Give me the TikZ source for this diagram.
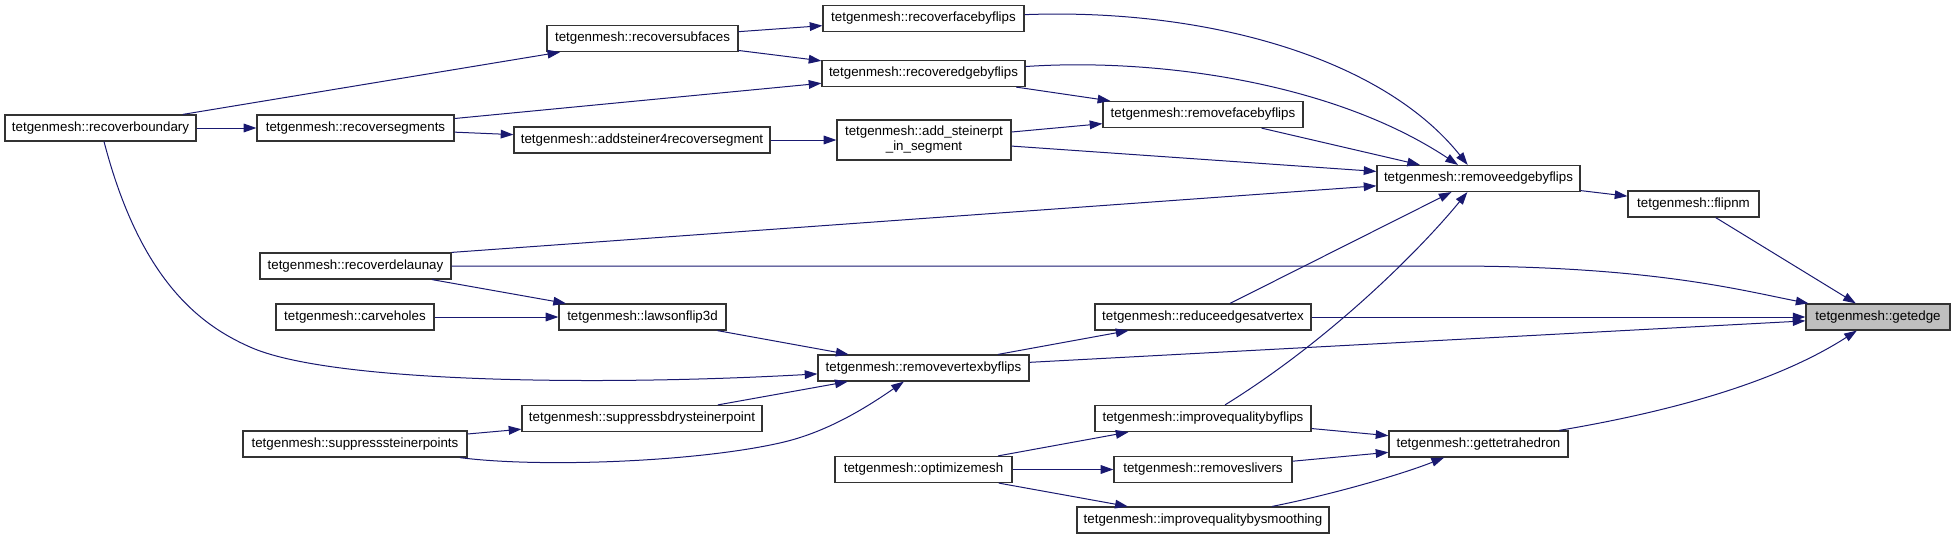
\documentclass[tikz,border=0pt]{standalone}
\usepackage{fontspec}
\setmainfont{Liberation Sans}
\usetikzlibrary{arrows.meta}
\definecolor{edgeblue}{HTML}{191970}
\definecolor{focusgrey}{HTML}{BFBFBF}
\begin{document}
\begin{tikzpicture}[x=0.75pt, y=-0.75pt,
	fn/.style={ draw=black!80, line width=0.9pt, fill=white, inner sep=0pt, minimum height=19.5pt, font=\fontsize{10}{11.25}\selectfont, align=center },
	fnf/.style={ fn, fill=focusgrey },
	call/.style={ edgeblue, line width=0.75pt, -{Triangle[length=9.5pt,width=6.5pt]} }
]
\useasboundingbox (0,0) rectangle (1955,539);

\node[fn, minimum width=143.25pt] at (100.5,128) (rb) {tetgenmesh::recoverboundary};

\node[fn, minimum width=147.75pt] at (355.5,128) (rsg) {tetgenmesh::recoversegments};
\node[fn, minimum width=143.25pt] at (355.5,266) (rdl) {tetgenmesh::recoverdelaunay};
\node[fn, minimum width=118.5pt] at (355,317) (cvh) {tetgenmesh::carveholes};
\node[fn, minimum width=168pt] at (355,444) (ssp) {tetgenmesh::suppresssteinerpoints};

\node[fn, minimum width=143.25pt] at (642.5,38.5) (rsf) {tetgenmesh::recoversubfaces};
\node[fn, minimum width=192pt] at (642,140) (as4) {tetgenmesh::addsteiner4recoversegment};
\node[fn, minimum width=125.25pt] at (642.5,317) (lf3) {tetgenmesh::lawsonflip3d};
\node[fn, minimum width=180pt] at (642,418.5) (sbs) {tetgenmesh::suppressbdrysteinerpoint};

\node[fn, minimum width=150.75pt] at (923.5,18.5) (rfb) {tetgenmesh::recoverfacebyflips};
\node[fn, minimum width=152.25pt] at (923.5,73.5) (reb) {tetgenmesh::recoveredgebyflips};
\node[fn, minimum width=130.5pt, minimum height=30pt] at (924,140) (asp) {tetgenmesh::add\_steinerpt\\\_in\_segment};
\node[fn, minimum width=158.25pt] at (923.5,368) (rvf) {tetgenmesh::removevertexbyflips};
\node[fn, minimum width=132.75pt] at (923.5,469.5) (opt) {tetgenmesh::optimizemesh};

\node[fn, minimum width=150pt] at (1203,114.5) (rfbf) {tetgenmesh::removefacebyflips};
\node[fn, minimum width=162pt] at (1203,317) (rev) {tetgenmesh::reduceedgesatvertex};
\node[fn, minimum width=162pt] at (1203,418.5) (iqf) {tetgenmesh::improvequalitybyflips};
\node[fn, minimum width=133.5pt] at (1203,469.5) (rsl) {tetgenmesh::removeslivers};
\node[fn, minimum width=189pt] at (1203,520) (iqs) {tetgenmesh::improvequalitybysmoothing};

\node[fn, minimum width=152.25pt] at (1478.5,178.5) (redg) {tetgenmesh::removeedgebyflips};
\node[fn, minimum width=134.25pt] at (1478.5,444) (gth) {tetgenmesh::gettetrahedron};
\node[fn, minimum width=98.25pt] at (1693.5,204) (fnm) {tetgenmesh::flipnm};
\node[fnf, minimum width=108pt] at (1878,317) (ge) {tetgenmesh::getedge};

\draw[call] (rb) to (rsf);
\draw[call] (rb) to (rsg);
\draw[call] (rb) .. controls (140,280) and (200,325) .. (250,347) .. controls (330,383) and (600,386) .. (rvf);
\draw[call] (rsf) to (rfb);
\draw[call] (rsf) to (reb);
\draw[call] (rsg) to (reb);
\draw[call] (rsg) to (as4);
\draw[call] (as4) to (asp);
\draw[call] (asp) to (rfbf);
\draw[call] (asp) to (redg);
\draw[call] (reb) to (rfbf);
\draw[call] (reb) .. controls (1150,58) and (1330,80) .. (redg);
\draw[call] (rfb) .. controls (1200,8) and (1380,55) .. (redg);
\draw[call] (rfbf) to (redg);
\draw[call] (rdl.north east) to (redg);
\draw[call] (rdl.east) -- (1450,266) .. controls (1650,266) and (1740,290) .. (ge);
\draw[call] (rdl) to (lf3);
\draw[call] (cvh) to (lf3);
\draw[call] (lf3) to (rvf);
\draw[call] (rev) to (redg);
\draw[call] (rev) to (ge);
\draw[call] (rvf) to (rev);
\draw[call] (rvf) to (ge);
\draw[call] (iqf) .. controls (1330,340) and (1420,250) .. (redg);
\draw[call] (iqf) to (gth);
\draw[call] (gth) .. controls (1680,410) and (1780,380) .. (ge);
\draw[call] (fnm) to (ge);
\draw[call] (sbs) to (rvf);
\draw[call] (ssp) to (sbs);
\draw[call] (ssp) .. controls (540,468) and (700,462) .. (784,442) .. controls (830,431) and (870,405) .. (rvf);
\draw[call] (opt) to (iqf);
\draw[call] (opt) to (rsl);
\draw[call] (opt) to (iqs);
\draw[call] (rsl) to (gth);
\draw[call] (iqs) .. controls (1330,495) and (1400,475) .. (gth);
\draw[call] (redg) to (fnm);

\end{tikzpicture}
\end{document}
